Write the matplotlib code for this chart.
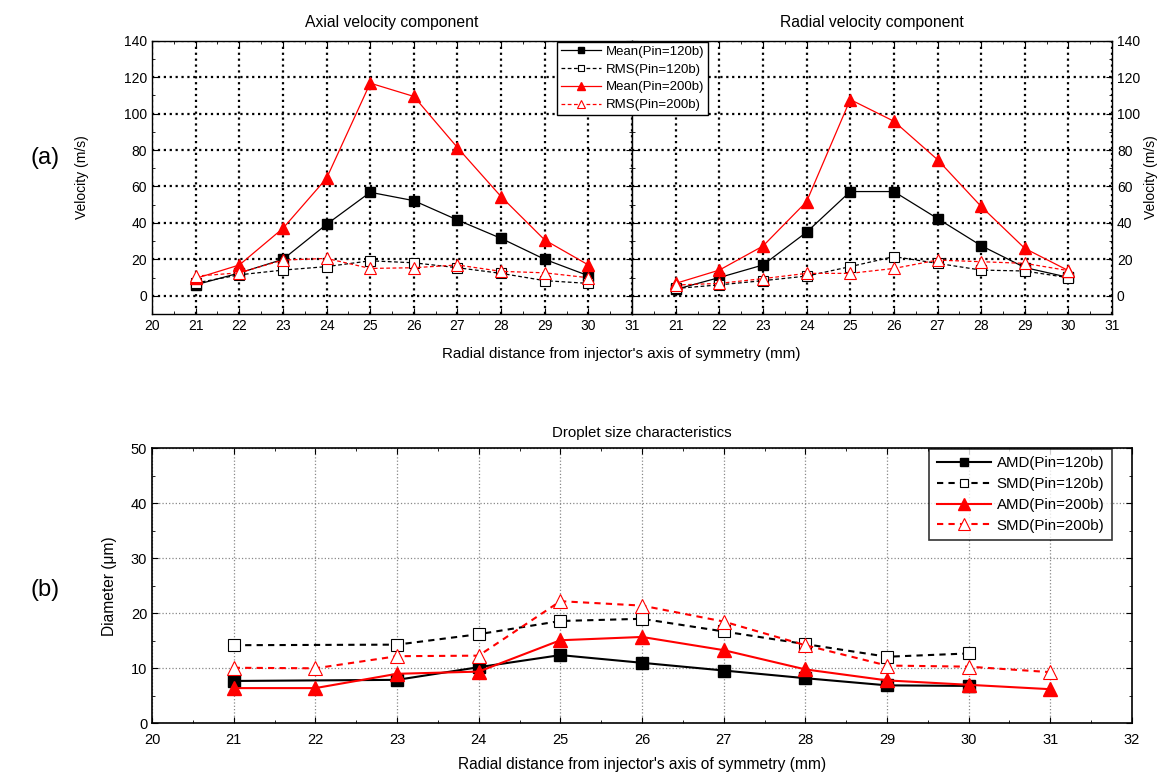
import numpy as np
import matplotlib
matplotlib.use("Agg")
import matplotlib.pyplot as plt
from matplotlib.ticker import MultipleLocator

plt.rcParams['font.family'] = ['Liberation Sans', 'DejaVu Sans']
plt.rcParams['font.size'] = 10

# radial positions (mm)
r = [21, 22, 23, 24, 25, 26, 27, 28, 29, 30]

# axial velocity component (m/s)
ax_mean120 = [6, 12.5, 20, 39.2, 56.8, 52.2, 41.6, 31.5, 20, 11]
ax_rms120 = [7, 11.5, 14.1, 16, 19.2, 18.1, 15.4, 12.3, 8.3, 6.8]
ax_mean200 = [9.5, 16.9, 37, 64.5, 116.7, 109.4, 81.3, 54.4, 30.6, 16.9]
ax_rms200 = [10.8, 12.6, 19.6, 20.5, 15, 15.4, 16.9, 13.4, 12.6, 9.9]

# radial velocity component (m/s)
rad_mean120 = [3.5, 10, 16.9, 34.9, 57.2, 57.2, 42.4, 27.5, 15.5, 10.1]
rad_rms120 = [4, 6, 8.3, 10.8, 16, 21.5, 17.8, 14.1, 13.6, 9.9]
rad_mean200 = [6.8, 14.1, 27.3, 51.7, 107.7, 95.8, 74.7, 49, 26, 13.8]
rad_rms200 = [5.9, 6.8, 9.4, 12.3, 12.3, 15, 19.6, 18.7, 17.8, 13.8]

# droplet size (um)
r120 = [21, 23, 24, 25, 26, 27, 28, 29, 30]
amd120 = [7.7, 7.9, 10.2, 12.4, 11, 9.6, 8.2, 6.9, 6.8]
smd120 = [14.2, 14.3, 16.2, 18.6, 19, 16.7, 14.4, 12.1, 12.7]
r200 = [21, 22, 23, 24, 25, 26, 27, 28, 29, 30, 31]
amd200 = [6.4, 6.4, 9, 9.4, 15.1, 15.7, 13.3, 9.8, 7.8, 7.0, 6.2]
smd200 = [10.1, 10, 12.2, 12.3, 22.2, 21.4, 18.5, 14.2, 10.5, 10.3, 9.3]

fig = plt.figure(figsize=(11.64, 7.78), dpi=100)
ax1 = fig.add_axes([0.1306, 0.5964, 0.4124, 0.3513])
ax2 = fig.add_axes([0.5430, 0.5964, 0.4124, 0.3513])
ax3 = fig.add_axes([0.1306, 0.0703, 0.8419, 0.3535])


def velocity_panel(ax, mean120, rms120, mean200, rms200, title):
    ax.plot(r, mean120, '-', color='black', lw=0.9, marker='s', ms=7,
            mfc='black', mec='black', label='Mean(Pin=120b)')
    ax.plot(r, rms120, '--', color='black', lw=0.9, dashes=(3, 2), marker='s', ms=7,
            mfc='white', mec='black', mew=0.8, label='RMS(Pin=120b)')
    ax.plot(r, mean200, '-', color='red', lw=0.9, marker='^', ms=9,
            mfc='red', mec='red', label='Mean(Pin=200b)')
    ax.plot(r, rms200, '--', color='red', lw=0.9, dashes=(3, 2), marker='^', ms=9,
            mfc='white', mec='red', mew=0.8, label='RMS(Pin=200b)')
    ax.set_xlim(20, 31)
    ax.set_ylim(-10, 140)
    ax.xaxis.set_major_locator(MultipleLocator(1))
    ax.xaxis.set_minor_locator(MultipleLocator(0.5))
    ax.yaxis.set_major_locator(MultipleLocator(20))
    ax.yaxis.set_minor_locator(MultipleLocator(10))
    ax.set_yticks(range(0, 141, 20))
    ax.grid(True, which='major', color='black', linestyle=':', lw=1.6)
    ax.tick_params(which='both', direction='in', top=True, right=True)
    ax.tick_params(which='major', length=4)
    ax.tick_params(which='minor', length=2)
    ax.set_title(title, fontsize=11.3, pad=10)
    for s in ax.spines.values():
        s.set_linewidth(1.0)


velocity_panel(ax1, ax_mean120, ax_rms120, ax_mean200, ax_rms200,
               'Axial velocity component')
velocity_panel(ax2, rad_mean120, rad_rms120, rad_mean200, rad_rms200,
               'Radial velocity component')
ax1.set_ylabel('Velocity (m/s)', labelpad=25)
ax2.yaxis.tick_right()
ax2.tick_params(which='both', left=True, labelleft=False, labelright=True)
ax2.yaxis.set_label_position('right')
ax2.set_ylabel('Velocity (m/s)', labelpad=3)
ax2.set_xticks(range(21, 32))
ax2.set_xlim(20, 31)

h, l = ax1.get_legend_handles_labels()
leg = fig.legend(h, l, loc='upper left', bbox_to_anchor=(0.4785, 0.9465),
                 frameon=True, fancybox=False, edgecolor='black', handlelength=3,
                 borderpad=0.3, labelspacing=0.42, handletextpad=0.4,
                 borderaxespad=0, fontsize=9.5, markerscale=0.7, framealpha=1)
leg.get_frame().set_linewidth(1.0)

fig.text(0.534, 0.545, "Radial distance from injector's axis of symmetry (mm)",
         ha='center', va='center', fontsize=10.9)

# droplet size panel
ax3.plot(r120, amd120, '-', color='black', lw=1.5, marker='s', ms=8,
         mfc='black', mec='black', label='AMD(Pin=120b)')
ax3.plot(r120, smd120, '--', color='black', lw=1.5, dashes=(3, 2.5), marker='s', ms=8,
         mfc='white', mec='black', mew=0.8, label='SMD(Pin=120b)')
ax3.plot(r200, amd200, '-', color='red', lw=1.5, marker='^', ms=10,
         mfc='red', mec='red', label='AMD(Pin=200b)')
ax3.plot(r200, smd200, '--', color='red', lw=1.5, dashes=(3, 2.5), marker='^', ms=10,
         mfc='white', mec='red', mew=0.8, label='SMD(Pin=200b)')
ax3.set_xlim(20, 32)
ax3.set_ylim(0, 50)
ax3.xaxis.set_major_locator(MultipleLocator(1))
ax3.xaxis.set_minor_locator(MultipleLocator(0.5))
ax3.yaxis.set_major_locator(MultipleLocator(10))
ax3.yaxis.set_minor_locator(MultipleLocator(5))
ax3.grid(True, which='major', color='#888888', linestyle=':', lw=0.9)
ax3.tick_params(which='both', direction='in', top=True, right=True, labelsize=10.5)
ax3.tick_params(axis='x', pad=7)
ax3.tick_params(which='major', length=4)
ax3.tick_params(which='minor', length=2)
ax3.set_title('Droplet size characteristics', fontsize=10.8, pad=8)
ax3.set_ylabel('Diameter (\u03bcm)', fontsize=11.2, labelpad=10)
ax3.set_xlabel("Radial distance from injector's axis of symmetry (mm)",
               fontsize=11.2, labelpad=7)
for s in ax3.spines.values():
    s.set_linewidth(1.2)
leg3 = ax3.legend(loc='upper right', bbox_to_anchor=(0.9795, 0.998), frameon=True,
                  fancybox=False, edgecolor='black', handlelength=3.6,
                  borderpad=0.5, labelspacing=0.45, handletextpad=0.4,
                  borderaxespad=0, fontsize=10.8, markerscale=0.8)
leg3.get_frame().set_linewidth(1.2)

fig.text(0.0258, 0.797, '(a)', fontsize=17, va='center', ha='left')
fig.text(0.0258, 0.242, '(b)', fontsize=17, va='center', ha='left')

fig.savefig('out.png', dpi=100)
